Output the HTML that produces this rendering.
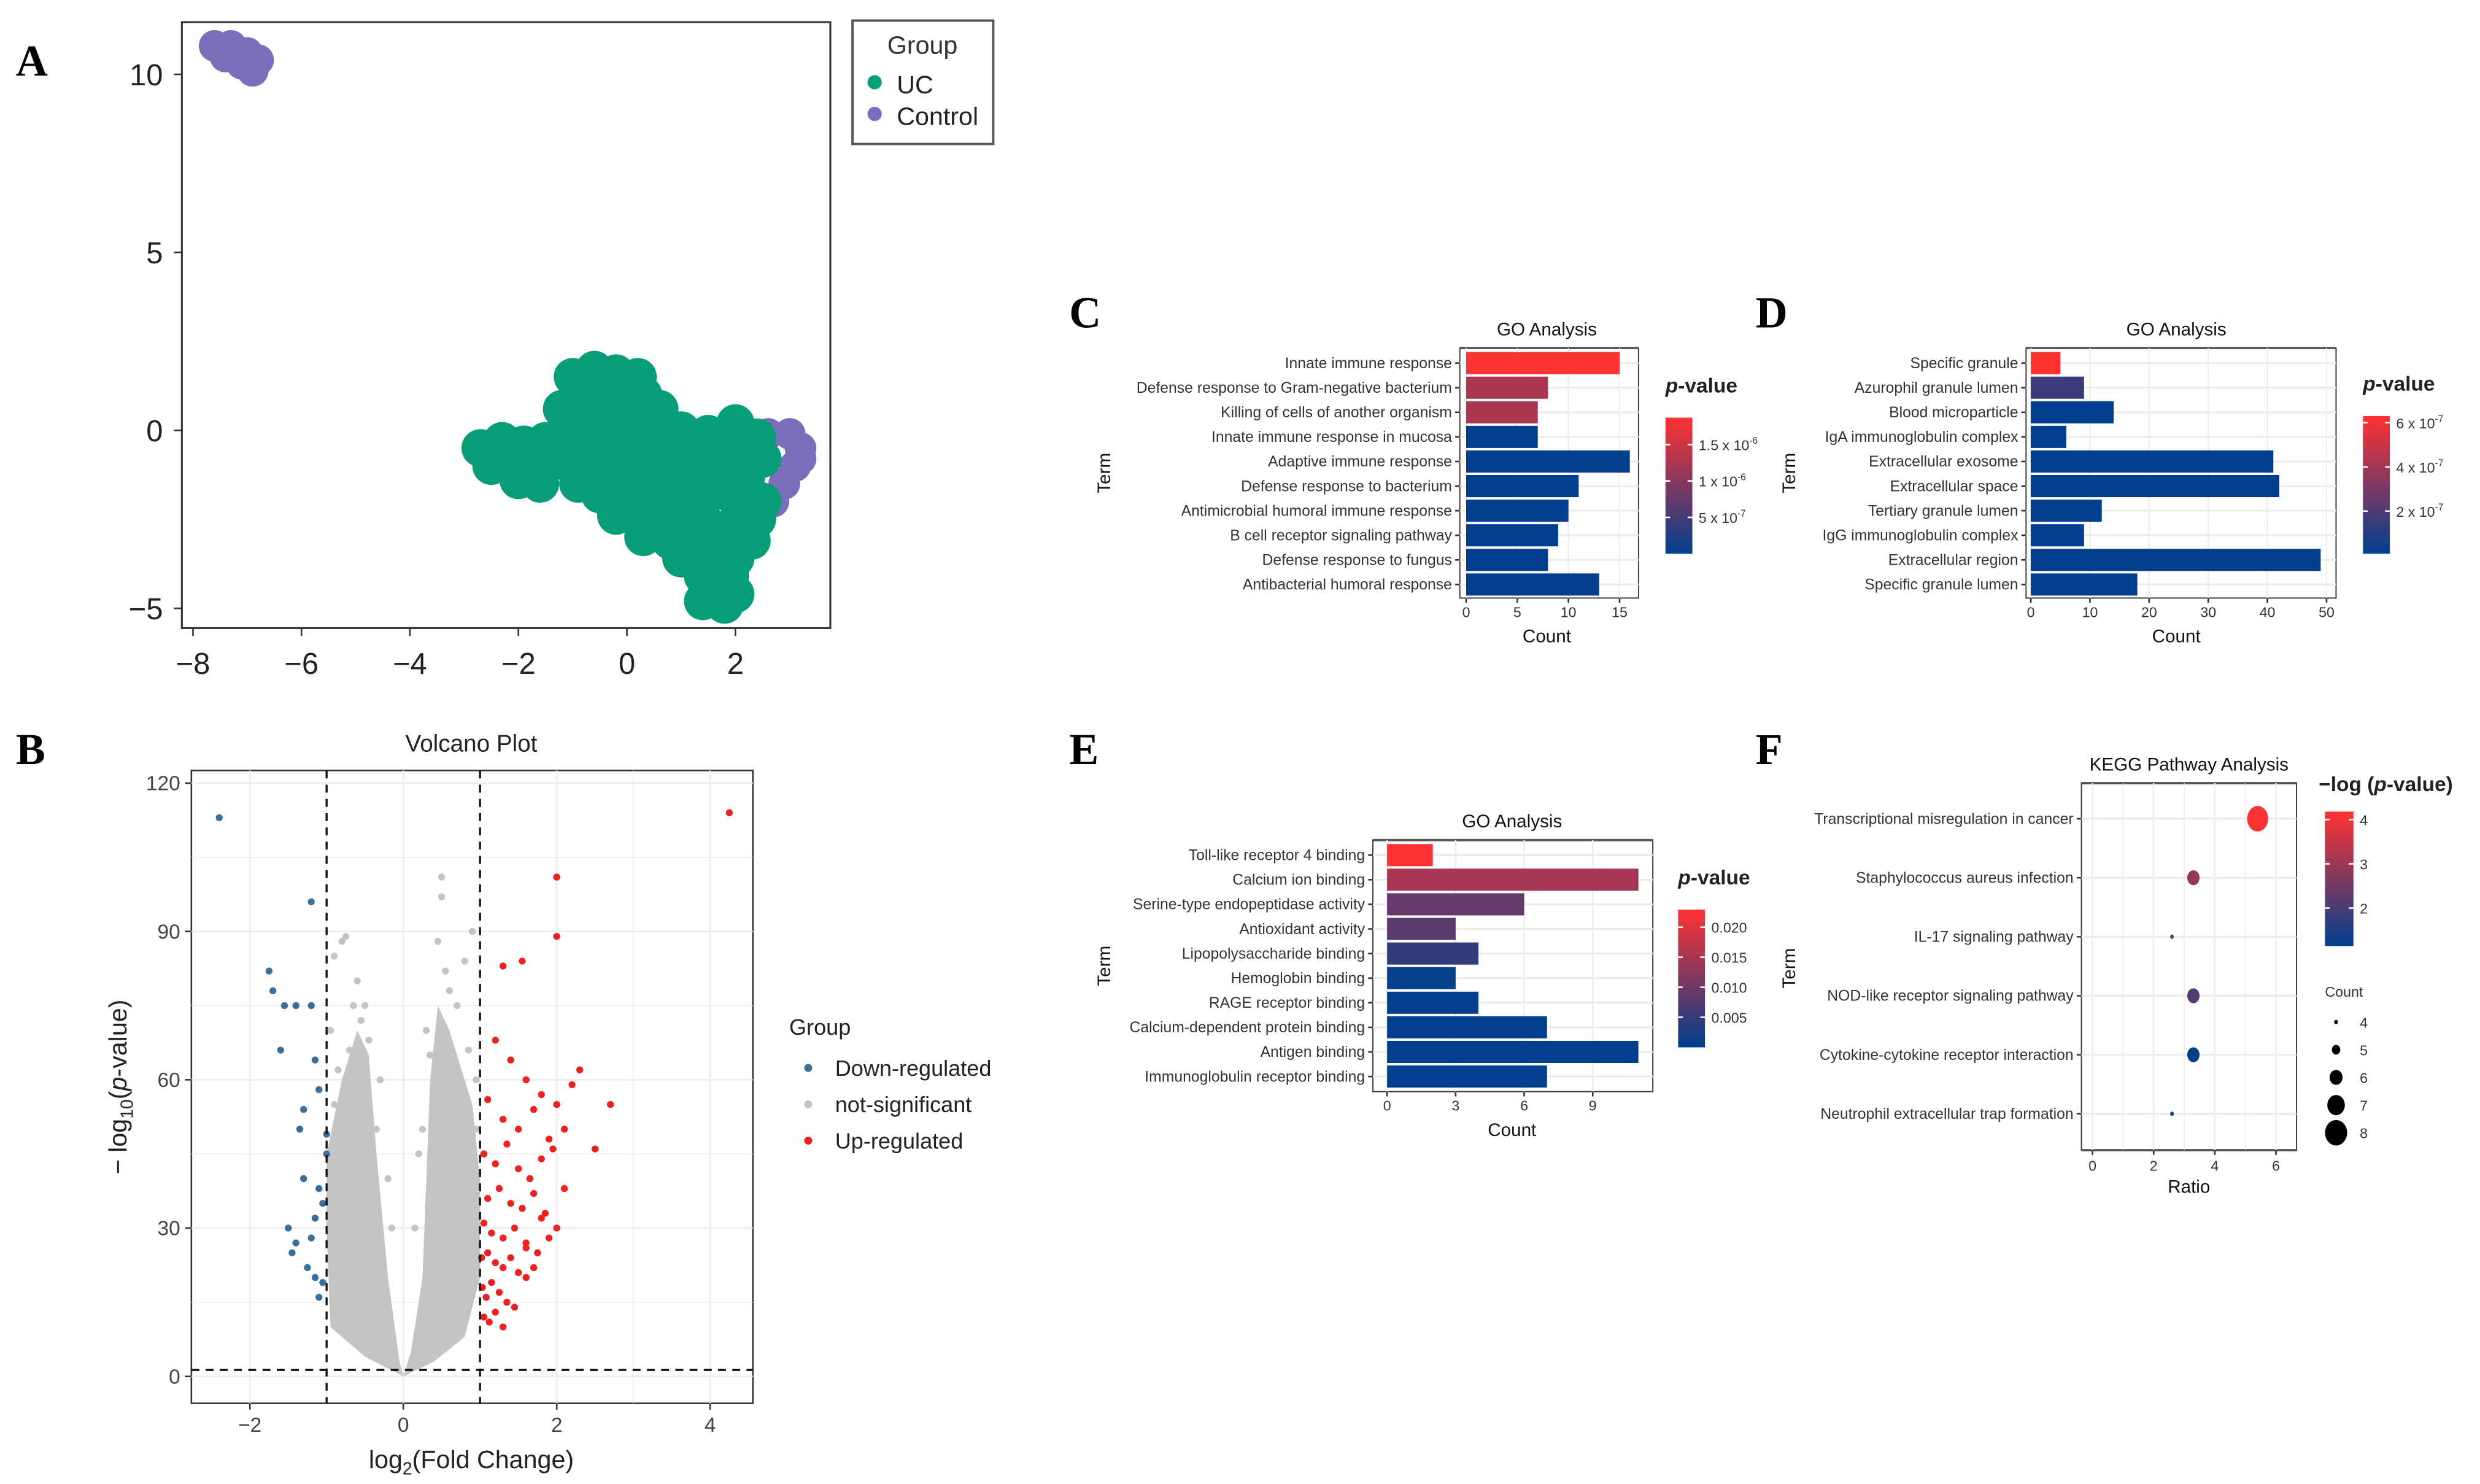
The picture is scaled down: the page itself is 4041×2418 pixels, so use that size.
<!DOCTYPE html>
<html><head><meta charset="utf-8">
<style>
html,body{margin:0;padding:0;background:#fff;}
svg{display:block;font-family:"Liberation Sans",sans-serif;}
</style></head>
<body>
<svg id="fig" width="4041" height="2418" viewBox="0 0 1568 938" preserveAspectRatio="none" xmlns="http://www.w3.org/2000/svg">
<defs>
<linearGradient id="gradRB" x1="0" y1="1" x2="0" y2="0">
<stop offset="0" stop-color="#003f8e"/><stop offset="1" stop-color="#ff3232"/>
</linearGradient>
</defs>
<g font-family="Liberation Serif,serif" font-weight="bold" font-size="28">
<text x="10" y="48">A</text>
<text x="10" y="483">B</text>
<text x="676" y="207">C</text>
<text x="1110" y="207">D</text>
<text x="676" y="483">E</text>
<text x="1110" y="483">F</text>
</g>
<g id="pA"></g>
<g id="pB"></g>
<g id="pC"></g>
<g id="pD"></g>
<g id="pE"></g>
<g id="pF"></g>
</svg>
<script>
// ---------- DATA ----------
const umapUCx=[-1,-0.6,-0.2,0.2,-0.8,-0.3,0.3,0.6,-1.2,-0.6,0,-2.7,-2.3,-1.9,-1.5,-2.5,-2.1,-1.7,-1.3,-2.0,-1.6,-1,-0.5,0,0.5,1,1.5,2,2.4,-1,-0.5,0,0.5,1,1.5,2,2.5,-0.8,-0.3,0.2,0.7,1.2,1.7,2.2,-0.5,0,0.5,1,1.5,2,2.5,-0.2,0.4,0.9,1.4,2,2.4,0.3,0.8,1.3,1.8,2.3,1,1.5,2,1.4,1.9,1.6,2.0,1.8,1.4,-1.1,-0.4,0.3,1.2,2.0,-2.4,-1.1,0.1,0.9,1.7,-0.9,-0.1,0.7,-0.6,0.6];
const umapUCy=[1.5,1.7,1.6,1.5,1.0,1.0,1.0,0.6,0.6,0.5,0.5,-0.5,-0.3,-0.4,-0.3,-1.0,-1.0,-0.9,-0.8,-1.4,-1.5,0,0,0,0.1,0,-0.1,0.2,-0.2,-0.6,-0.5,-0.6,-0.5,-0.6,-0.6,-0.6,-0.8,-1.2,-1.1,-1.2,-1.1,-1.2,-1.2,-1.3,-1.8,-1.8,-1.8,-1.8,-1.8,-1.9,-2,-2.4,-2.4,-2.5,-2.5,-2.6,-2.5,-3,-3.1,-3,-3.2,-3.1,-3.6,-3.6,-3.6,-4.1,-4.1,-4.6,-4.6,-4.9,-4.8,-0.3,-0.3,-0.3,-0.35,-0.4,-0.7,-0.9,-0.9,-0.85,-0.9,-1.5,-1.5,-1.5,1.3,0.3];
const umapCtlx=[2.6,3.0,3.2,3.1,2.9,2.7,2.4,3.2,-7.6,-7.3,-7.0,-6.8,-7.4,-6.9,-7.1];
const umapCtly=[-0.1,-0.1,-0.5,-1.0,-1.5,-2.0,-2.3,-0.8,10.8,10.8,10.6,10.4,10.5,10.1,10.3];

const volUpX=[4.25,2.0,2.0,1.3,1.55,1.2,1.4,1.6,1.8,2.0,2.2,2.7,2.5,1.1,1.3,1.5,1.7,1.9,2.1,2.3,1.05,1.2,1.35,1.5,1.65,1.8,1.95,2.1,1.1,1.25,1.4,1.55,1.7,1.85,2.0,1.05,1.15,1.3,1.45,1.6,1.75,1.9,1.02,1.1,1.2,1.3,1.4,1.5,1.6,1.7,1.03,1.08,1.15,1.25,1.35,1.45,1.05,1.12,1.2,1.3,1.8,1.6];
const volUpY=[114,101,89,83,84,68,64,60,57,55,59,55,46,56,52,50,54,48,50,62,45,43,47,42,40,44,46,38,36,38,35,34,37,33,30,31,29,28,30,27,25,28,24,25,23,22,24,21,20,22,18,16,19,17,15,14,12,11,13,10,32,26];
const volDownX=[-2.4,-1.2,-1.75,-1.7,-1.55,-1.4,-1.2,-1.6,-1.15,-1.1,-1.3,-1.35,-1.0,-1.3,-1.1,-1.05,-1.15,-1.2,-1.4,-1.45,-1.25,-1.15,-1.05,-1.1,-1.5,-1.0];
const volDownY=[113,96,82,78,75,75,75,66,64,58,54,50,49,40,38,35,32,28,27,25,22,20,19,16,30,45];
const volNsX=[-0.75,-0.8,-0.9,-0.6,-0.5,-0.55,0.5,0.5,0.8,0.9,0.7,0.6,0.3,0.35,-0.95,-0.3,-0.7,-0.85,0.95,0.85,0.45,-0.45,0.2,-0.2,-0.9,-0.95,0.95,0.9,-0.65,0.55,-0.35,0.25,-0.15,0.15];
const volNsY=[89,88,85,80,75,72,101,97,84,90,75,78,70,65,70,60,66,62,60,66,88,68,45,40,55,45,50,45,75,82,50,50,30,30];
const nsLeftX=[0,-0.5,-0.95,-1,-1,-0.8,-0.6,-0.45,-0.35,-0.2,-0.05];
const nsLeftY=[0,4,10,30,45,60,70,65,45,20,3];
const nsRightX=[0,0.1,0.25,0.3,0.35,0.45,0.6,0.9,1,1,0.8,0.4];
const nsRightY=[0,5,20,40,60,75,70,55,40,20,8,3];

const cTerms=["Innate immune response","Defense response to Gram-negative bacterium","Killing of cells of another organism","Innate immune response in mucosa","Adaptive immune response","Defense response to bacterium","Antimicrobial humoral immune response","B cell receptor signaling pathway","Defense response to fungus","Antibacterial humoral response"];
const cCounts=[15,8,7,7,16,11,10,9,8,13];
const cPvals=[1.86e-6,1.25e-6,1.25e-6,1e-8,1e-8,1e-8,1e-8,1e-8,1e-8,1e-8];
const cTicks=[0,5,10,15];

const dTerms=["Specific granule","Azurophil granule lumen","Blood microparticle","IgA immunoglobulin complex","Extracellular exosome","Extracellular space","Tertiary granule lumen","IgG immunoglobulin complex","Extracellular region","Specific granule lumen"];
const dCounts=[5,9,14,6,41,42,12,9,49,18];
const dPvals=[6.3e-7,1.5e-7,1e-8,1e-8,1e-8,1e-8,1e-8,1e-8,1e-8,1e-8];
const dTicks=[0,10,20,30,40,50];

const eTerms=["Toll-like receptor 4 binding","Calcium ion binding","Serine-type endopeptidase activity","Antioxidant activity","Lipopolysaccharide binding","Hemoglobin binding","RAGE receptor binding","Calcium-dependent protein binding","Antigen binding","Immunoglobulin receptor binding"];
const eCounts=[2,11,6,3,4,3,4,7,11,7];
const ePvals=[0.0228,0.015,0.009,0.008,0.0045,0.0005,0.0003,0.0002,0.0002,0.0002];
const eTicks=[0,3,6,9];

const fTerms=["Transcriptional misregulation in cancer","Staphylococcus aureus infection","IL-17 signaling pathway","NOD-like receptor signaling pathway","Cytokine-cytokine receptor interaction","Neutrophil extracellular trap formation"];
const fRatios=[5.4,3.3,2.6,3.3,3.3,2.6];
const fCounts=[8,6,4,6,6,4];
const fLogP=[4.15,2.9,2.2,2.1,1.2,1.15];
const fTicks=[0,2,4,6];
const fSizeLegend=[4,5,6,7,8];

// ---------- HELPERS ----------
const NS="http://www.w3.org/2000/svg";
function el(parent,tag,attrs,text){const e=document.createElementNS(NS,tag);for(const k in attrs)e.setAttribute(k,attrs[k]);if(text!==undefined)e.textContent=text;parent.appendChild(e);return e;}
function lin(d0,d1,r0,r1){return v=>r0+(v-d0)/(d1-d0)*(r1-r0);}
function mix(t){t=Math.max(0,Math.min(1,t));const a=[0,63,142],b=[255,50,50];return "rgb("+a.map((v,i)=>Math.round(v+(b[i]-v)*t)).join(",")+")";}

// ---------- PANEL A ----------
(function(){
const g=document.getElementById('pA');
const x=lin(-8,2,122,465), y=lin(0,10,272,47);
const box=el(g,'rect',{x:115,y:14,width:410,height:383,fill:'#fff',stroke:'#333','stroke-width':1.2});

for(let i=0;i<umapCtlx.length;i++){const c=el(g,'circle',{cx:x(umapCtlx[i]),cy:y(umapCtly[i]),r:10,fill:'#7b6dbb'});
}
for(let i=0;i<umapUCx.length;i++){const c=el(g,'circle',{cx:x(umapUCx[i]),cy:y(umapUCy[i]),r:12,fill:'#079d77'});
}
[-8,-6,-4,-2,0,2].forEach(v=>{el(g,'line',{x1:x(v),x2:x(v),y1:397,y2:402,stroke:'#333'});
const t=el(g,'text',{x:x(v),y:426,'font-size':19,'text-anchor':'middle',fill:'#222'},v<0?'\u2212'+(-v):''+v);
});
[-5,0,5,10].forEach(v=>{el(g,'line',{x1:110,x2:115,y1:y(v),y2:y(v),stroke:'#333'});
const t=el(g,'text',{x:103,y:y(v)+7,'font-size':19,'text-anchor':'end',fill:'#222'},v<0?'\u2212'+(-v):''+v);
});
const lg=el(g,'g',{});
el(lg,'rect',{x:539,y:13,width:89,height:78,fill:'#fff',stroke:'#555','stroke-width':1.5});
el(lg,'text',{x:561,y:34,'font-size':16,fill:'#333'},'Group');
el(lg,'circle',{cx:553,cy:52,r:4.5,fill:'#079d77'});
el(lg,'text',{x:567,y:59,'font-size':16,fill:'#222'},'UC');
el(lg,'circle',{cx:553,cy:72,r:4.5,fill:'#7b6dbb'});
el(lg,'text',{x:567,y:79,'font-size':16,fill:'#222'},'Control');
})();

// ---------- PANEL B ----------
(function(){
const g=document.getElementById('pB');
const x=lin(0,4,255,449), y=lin(0,120,870,495);
el(g,'text',{x:298,y:475,'font-size':15,'text-anchor':'middle',fill:'#222'},'Volcano Plot');
const box=el(g,'rect',{x:121,y:487,width:355,height:400,fill:'#fff',stroke:'#333','stroke-width':1});

[-2,-1,0,1,2,3,4].forEach(v=>el(g,'line',{x1:x(v),x2:x(v),y1:487,y2:887,stroke:'#ebebeb','stroke-width':v%2===0?1:0.5}));
[0,15,30,45,60,75,90,105,120].forEach(v=>el(g,'line',{x1:121,x2:476,y1:y(v),y2:y(v),stroke:'#ebebeb','stroke-width':v%30===0?1:0.5}));
const poly=(xs,ys)=>xs.map((v,i)=>x(v)+','+y(ys[i])).join(' ');
const pl=el(g,'polygon',{points:poly(nsLeftX,nsLeftY),fill:'#c4c4c4'});
const pr=el(g,'polygon',{points:poly(nsRightX,nsRightY),fill:'#c4c4c4'});
const dot=(xs,ys,col,name)=>{for(let i=0;i<xs.length;i++){const c=el(g,'circle',{cx:x(xs[i]),cy:y(ys[i]),r:2.2,fill:col});
}};
dot(volNsX,volNsY,'#c4c4c4','ns-point');
dot(volDownX,volDownY,'#3a6f9c','down-point');
dot(volUpX,volUpY,'#ee2020','up-point');
[-1,1].forEach(v=>el(g,'line',{x1:x(v),x2:x(v),y1:487,y2:887,stroke:'#111','stroke-dasharray':'5,4','stroke-width':1.3}));
el(g,'line',{x1:121,x2:476,y1:y(1.3),y2:y(1.3),stroke:'#111','stroke-dasharray':'5,4','stroke-width':1.3});
[-2,0,2,4].forEach(v=>{el(g,'line',{x1:x(v),x2:x(v),y1:887,y2:891,stroke:'#333'});
const t=el(g,'text',{x:x(v),y:905,'font-size':13,'text-anchor':'middle',fill:'#444'},v<0?'\u2212'+(-v):''+v);
});
[0,30,60,90,120].forEach(v=>{el(g,'line',{x1:117,x2:121,y1:y(v),y2:y(v),stroke:'#333'});
const t=el(g,'text',{x:114,y:y(v)+4.5,'font-size':13,'text-anchor':'end',fill:'#444'},''+v);
});
const xt=el(g,'text',{x:298,y:928,'font-size':16,'text-anchor':'middle',fill:'#222'});
xt.innerHTML='log<tspan font-size="11" dy="4">2</tspan><tspan dy="-4">(Fold Change)</tspan>';
const yt=el(g,'text',{transform:'translate(80,687) rotate(-90)','font-size':16,'text-anchor':'middle',fill:'#222'});
yt.innerHTML='\u2212 log<tspan font-size="11" dy="4">10</tspan><tspan dy="-4">(</tspan><tspan font-style="italic">p</tspan>-value)';
const lg=el(g,'g',{});
el(lg,'text',{x:499,y:654,'font-size':14,fill:'#222'},'Group');
[['Down-regulated','#3a6f9c',675],['not-significant','#c4c4c4',698],['Up-regulated','#ee2020',721]].forEach(r=>{
el(lg,'circle',{cx:511,cy:r[2],r:2.5,fill:r[1]});el(lg,'text',{x:528,y:r[2]+5,'font-size':14,fill:'#222'},r[0]);});
})();

// ---------- BAR PANELS ----------
function barPanel(id,terms,counts,pvals,ticks,o){
const g=document.getElementById(id);
const x=lin(0,o.tv,o.x0,o.xv);
const cs=lin(o.p0,o.p1,0,1);
el(g,'text',{x:o.titleX,y:o.titleY,'font-size':11.5,'text-anchor':'middle',fill:'#111'},'GO Analysis');
const box=el(g,'rect',{x:o.bx,y:o.by,width:o.bw,height:o.bh,fill:'#fff',stroke:'#444','stroke-width':0.8});

el(g,'line',{x1:o.bx,x2:o.bx+o.bw,y1:o.by,y2:o.by,stroke:'#555','stroke-width':1.5});
ticks.forEach(v=>el(g,'line',{x1:x(v),x2:x(v),y1:o.by,y2:o.by+o.bh,stroke:'#ececec','stroke-width':0.8}));
terms.forEach((t,i)=>{const cy=o.r0+i*o.rs;
el(g,'line',{x1:o.bx,x2:o.bx+o.bw,y1:cy,y2:cy,stroke:'#ececec','stroke-width':1.2});
const b=el(g,'rect',{x:x(0),y:cy-o.rs*0.45,width:x(counts[i])-x(0),height:o.rs*0.9,fill:mix(cs(pvals[i]))});

el(g,'line',{x1:o.bx-3,x2:o.bx,y1:cy,y2:cy,stroke:'#333'});
const l=el(g,'text',{x:o.bx-5,y:cy+3.2,'font-size':9.6,'text-anchor':'end',fill:'#333'},t);
});
ticks.forEach(v=>{el(g,'line',{x1:x(v),x2:x(v),y1:o.by+o.bh,y2:o.by+o.bh+3,stroke:'#333'});
const t=el(g,'text',{x:x(v),y:o.by+o.bh+12,'font-size':9,'text-anchor':'middle',fill:'#333'},''+v);
});
const xt=el(g,'text',{x:o.titleX,y:o.by+o.bh+28,'font-size':11.5,'text-anchor':'middle',fill:'#111'},'Count');

const yt=el(g,'text',{transform:'translate('+o.termX+','+(o.by+o.bh/2)+') rotate(-90)','font-size':11.5,'text-anchor':'middle',fill:'#111'},'Term');

const lg=el(g,'g',{});
const lt=el(lg,'text',{x:o.cbx,y:o.cby0-16,'font-size':13,'font-weight':'bold',fill:'#222'});
lt.innerHTML='<tspan font-style="italic">p</tspan>-value';
el(lg,'rect',{x:o.cbx,y:o.cby0,width:17,height:o.cby1-o.cby0,fill:'url(#gradRB)'});
const cy=lin(o.p0,o.p1,o.cby1,o.cby0);
o.cbTicks.forEach((v,i)=>{el(lg,'line',{x1:o.cbx,x2:o.cbx+3,y1:cy(v),y2:cy(v),stroke:'#fff'});
el(lg,'line',{x1:o.cbx+14,x2:o.cbx+17,y1:cy(v),y2:cy(v),stroke:'#fff'});
const t=el(lg,'text',{x:o.cbx+21,y:cy(v)+3.5,'font-size':9,fill:'#333'});t.innerHTML=o.cbLabels[i];});
}
barPanel('pC',cTerms,cCounts,cPvals,cTicks,{tv:15,x0:927,xv:1024,p0:0,p1:1.87e-6,titleX:978,titleY:212,bx:923,by:220,bw:113,bh:158,r0:229.5,rs:15.55,termX:702,cbx:1053,cby0:264,cby1:350,
cbTicks:[1.5e-6,1e-6,5e-7],cbLabels:['1.5 x 10<tspan font-size="6" dy="-4">-6</tspan>','1 x 10<tspan font-size="6" dy="-4">-6</tspan>','5 x 10<tspan font-size="6" dy="-4">-7</tspan>']});
barPanel('pD',dTerms,dCounts,dPvals,dTicks,{tv:50,x0:1284,xv:1471,p0:0.07e-7,p1:6.3e-7,titleX:1376,titleY:212,bx:1281,by:220,bw:196,bh:158,r0:229.5,rs:15.55,termX:1135,cbx:1494,cby0:263,cby1:350,
cbTicks:[6e-7,4e-7,2e-7],cbLabels:['6 x 10<tspan font-size="6" dy="-4">-7</tspan>','4 x 10<tspan font-size="6" dy="-4">-7</tspan>','2 x 10<tspan font-size="6" dy="-4">-7</tspan>']});
barPanel('pE',eTerms,eCounts,ePvals,eTicks,{tv:9,x0:877,xv:1007,p0:0,p1:0.0229,titleX:956,titleY:523,bx:868,by:531,bw:177,bh:159,r0:540.5,rs:15.55,termX:702,cbx:1061,cby0:575,cby1:662,
cbTicks:[0.02,0.015,0.01,0.005],cbLabels:['0.020','0.015','0.010','0.005']});

// ---------- PANEL F ----------
(function(){
const g=document.getElementById('pF');
const BX0=1316,BX1=1452,BY0=495,BY1=727;
const x=lin(0,6,1323,1439), cs=lin(1.14,4.18,0,1);
const rad=c=>1.2+(c-4)*1.45;
el(g,'text',{x:1384,y:487,'font-size':11.5,'text-anchor':'middle',fill:'#111'},'KEGG Pathway Analysis');
const box=el(g,'rect',{x:BX0,y:BY0,width:BX1-BX0,height:BY1-BY0,fill:'#fff',stroke:'#444','stroke-width':0.8});

el(g,'line',{x1:BX0,x2:BX1,y1:BY0,y2:BY0,stroke:'#555','stroke-width':1.5});
el(g,'line',{x1:BX0,x2:BX1,y1:BY1,y2:BY1,stroke:'#555','stroke-width':1.5});
[0,1,2,3,4,5,6].forEach(v=>el(g,'line',{x1:x(v),x2:x(v),y1:BY0,y2:BY1,stroke:'#ececec','stroke-width':v%2?0.5:0.9}));
fTerms.forEach((t,i)=>{const cy=517.5+i*37.3;
el(g,'line',{x1:BX0,x2:BX1,y1:cy,y2:cy,stroke:'#ececec','stroke-width':1.2});
const c=el(g,'ellipse',{cx:x(fRatios[i]),cy:cy,rx:rad(fCounts[i])*0.95,ry:rad(fCounts[i])*1.15,fill:mix(cs(fLogP[i]))});

el(g,'line',{x1:BX0-3,x2:BX0,y1:cy,y2:cy,stroke:'#333'});
const l=el(g,'text',{x:BX0-5,y:cy+3.2,'font-size':9.6,'text-anchor':'end',fill:'#333'},t);
});
fTicks.forEach(v=>{el(g,'line',{x1:x(v),x2:x(v),y1:BY1,y2:BY1+3,stroke:'#333'});
const t=el(g,'text',{x:x(v),y:BY1+13,'font-size':9,'text-anchor':'middle',fill:'#333'},''+v);
});
const xt=el(g,'text',{x:1384,y:754,'font-size':11.5,'text-anchor':'middle',fill:'#111'},'Ratio');

const yt=el(g,'text',{transform:'translate(1135,612) rotate(-90)','font-size':11.5,'text-anchor':'middle',fill:'#111'},'Term');

const lg=el(g,'g',{});
const lt=el(lg,'text',{x:1466,y:500,'font-size':13,'font-weight':'bold',fill:'#222'});lt.innerHTML='\u2212log (<tspan font-style="italic">p</tspan>-value)';
el(lg,'rect',{x:1470,y:513,width:18,height:85,fill:'url(#gradRB)'});
const cy=lin(1.14,4.18,598,513);
[4,3,2].forEach(v=>{el(lg,'line',{x1:1470,x2:1473,y1:cy(v),y2:cy(v),stroke:'#fff'});el(lg,'line',{x1:1485,x2:1488,y1:cy(v),y2:cy(v),stroke:'#fff'});
el(lg,'text',{x:1492,y:cy(v)+3.5,'font-size':9,fill:'#333'},''+v);});
const sl=el(g,'g',{});
el(sl,'text',{x:1470,y:630,'font-size':9,fill:'#333'},'Count');
fSizeLegend.forEach((v,i)=>{const yy=646+i*17.5;el(sl,'ellipse',{cx:1477,cy:yy,rx:rad(v),ry:rad(v)*1.15,fill:'#000'});
el(sl,'text',{x:1492,y:yy+3.5,'font-size':9,fill:'#333'},''+v);});
})();
</script>
</body></html>
